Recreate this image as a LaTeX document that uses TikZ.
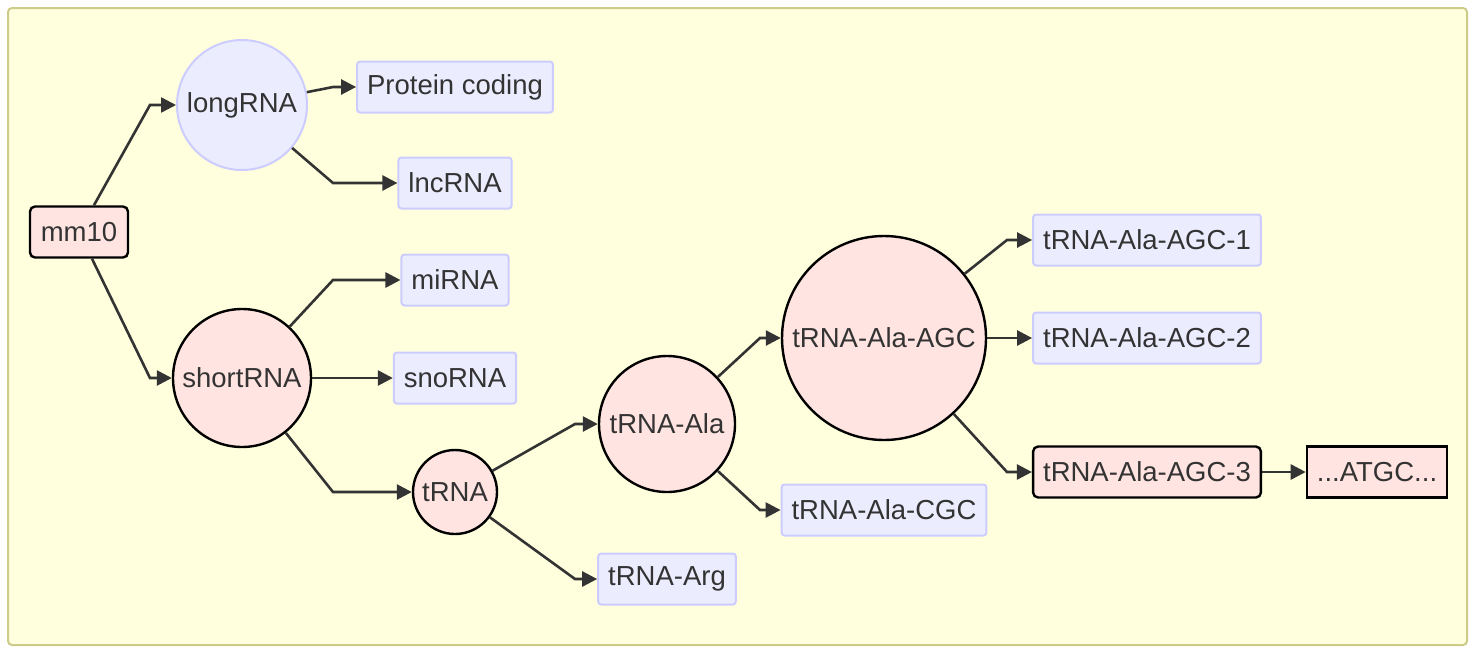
\documentclass[tikz,border=0pt]{standalone}
\usepackage{fontspec}
\setmainfont{Liberation Sans}
\usetikzlibrary{arrows.meta}
\definecolor{pinkfill}{RGB}{255,228,225}
\definecolor{lavfill}{RGB}{236,236,255}
\definecolor{lavline}{RGB}{204,204,255}
\definecolor{bgyellow}{RGB}{255,255,222}
\definecolor{bgline}{RGB}{204,204,136}
\definecolor{ink}{RGB}{51,51,51}

\begin{document}
\begin{tikzpicture}[x=0.5pt, y=-0.5pt,
    every node/.style={font=\fontsize{13.75}{16}\selectfont, text=ink},
    leaf/.style={draw=lavline, fill=lavfill, line width=1pt, rounded corners=1.5pt,
        minimum height=25.5pt, inner xsep=5pt, inner ysep=0pt},
    hit/.style={draw=black, fill=pinkfill, line width=1.2pt,
        minimum height=25.5pt, inner xsep=5pt, inner ysep=0pt},
    hub/.style={circle, draw=black, fill=pinkfill, line width=1.2pt, inner sep=0pt},
    soft/.style={draw=lavline, fill=lavfill, line width=1pt},
    edge/.style={draw=ink, line width=1.3pt, -{Triangle[length=7.5pt, width=7.5pt]}}]
\useasboundingbox (0,0) rectangle (1475,654);
\draw[bgline, fill=bgyellow, line width=1pt, rounded corners=2pt] (8,8) rectangle (1467,645);

% bend columns
\coordinate (k1) at (150,0);
\coordinate (k2) at (333,0);
\coordinate (k3) at (575,0);
\coordinate (k4) at (760,0);
\coordinate (k5) at (1007,0);

% genome and RNA classes
\node[hit, rounded corners=2.5pt, minimum width=49pt] (mm10) at (79,232) {mm10};
\node[hub, soft, minimum size=65pt] (longRNA) at (242,105) {longRNA};
\node[hub, minimum size=69pt] (shortRNA) at (242,378) {shortRNA};
\node[leaf] (protein) at (455,87) {Protein coding};
\node[leaf] (lncRNA) at (455,183) {lncRNA};
\node[leaf] (miRNA) at (455,280) {miRNA};
\node[leaf] (snoRNA) at (455,378) {snoRNA};
\node[hub, minimum size=42pt] (tRNA) at (455,492) {tRNA};

% tRNA families
\node[hub, minimum size=68pt] (ala) at (667,424) {tRNA-Ala};
\node[leaf] (arg) at (667,579) {tRNA-Arg};
\node[hub, minimum size=102pt] (alaAGC) at (884,338) {tRNA-Ala-AGC};
\node[leaf] (alaCGC) at (884,510) {tRNA-Ala-CGC};
\node[leaf] (agc1) at (1147,240) {tRNA-Ala-AGC-1};
\node[leaf] (agc2) at (1147,338) {tRNA-Ala-AGC-2};
\node[hit, rounded corners=2.5pt] (agc3) at (1147,472) {tRNA-Ala-AGC-3};
\node[hit] (seq) at (1377,472) {...ATGC...};

\draw[edge] (mm10) -- (k1 |- longRNA) -- (longRNA);
\draw[edge] (mm10) -- (k1 |- shortRNA) -- (shortRNA);
\draw[edge] (longRNA) -- (k2 |- protein) -- (protein);
\draw[edge] (longRNA) -- (k2 |- lncRNA) -- (lncRNA);
\draw[edge] (shortRNA) -- (k2 |- miRNA) -- (miRNA);
\draw[edge] (shortRNA) -- (snoRNA);
\draw[edge] (shortRNA) -- (k2 |- tRNA) -- (tRNA);
\draw[edge] (tRNA) -- (k3 |- ala) -- (ala);
\draw[edge] (tRNA) -- (k3 |- arg) -- (arg);
\draw[edge] (ala) -- (k4 |- alaAGC) -- (alaAGC);
\draw[edge] (ala) -- (k4 |- alaCGC) -- (alaCGC);
\draw[edge] (alaAGC) -- (k5 |- agc1) -- (agc1);
\draw[edge] (alaAGC) -- (agc2);
\draw[edge] (alaAGC) -- (k5 |- agc3) -- (agc3);
\draw[edge] (agc3) -- (seq);
\end{tikzpicture}
\end{document}
